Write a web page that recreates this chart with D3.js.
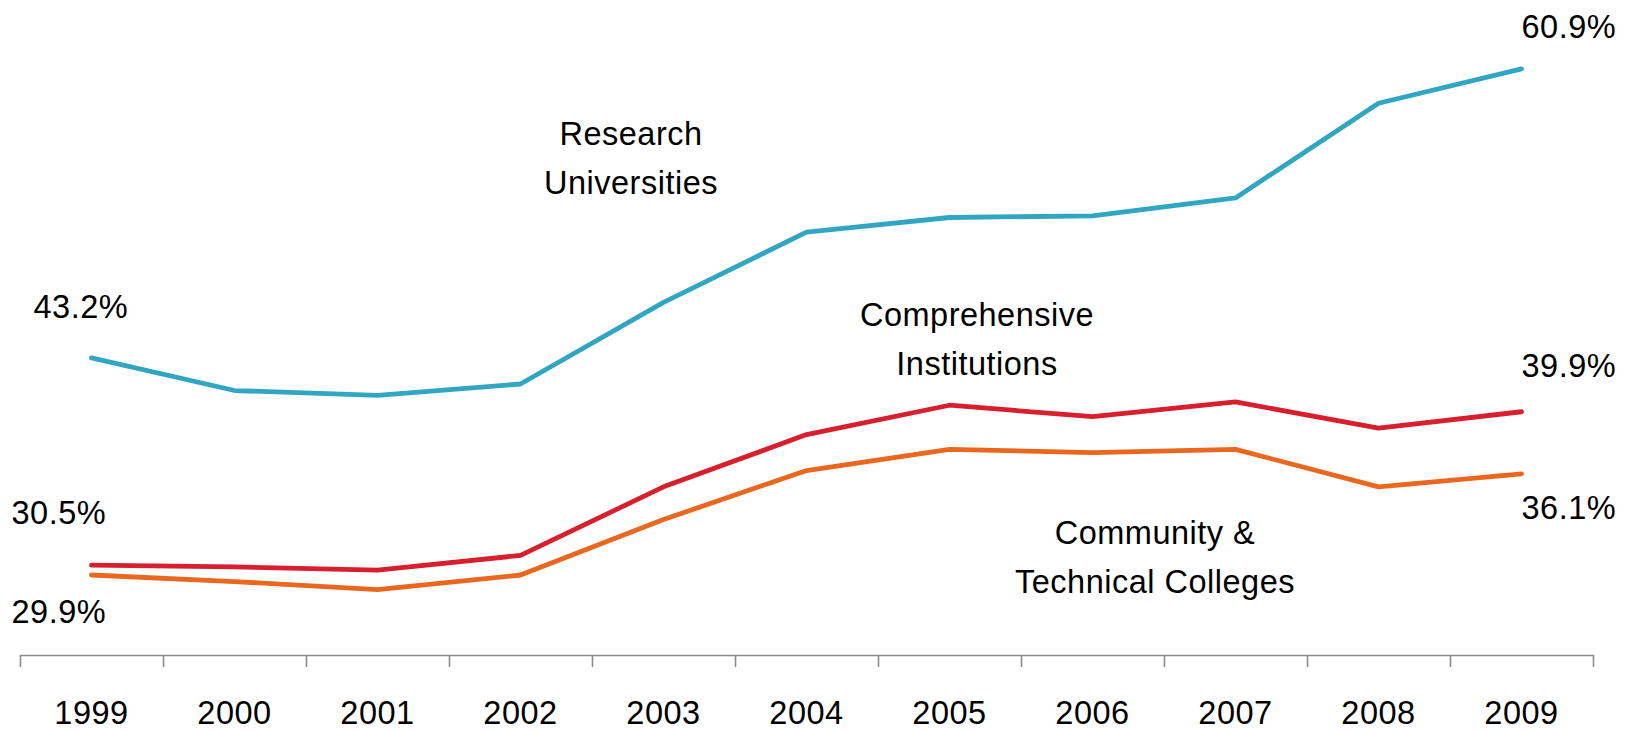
<!DOCTYPE html>
<html>
<head>
<meta charset="utf-8">
<script src="https://cdn.jsdelivr.net/npm/d3@7/dist/d3.min.js"></script>
<style>
  html, body { margin: 0; padding: 0; background: #fff; }
  svg { display: block; }
  text { font-family: "Liberation Sans", Arial, sans-serif; font-size: 32.5px; fill: #000; letter-spacing: 0.5px; }
</style>
</head>
<body>
<svg id="chart" width="1626" height="731"></svg>
<script>
// data (percent)
var years = ['1999', '2000', '2001', '2002', '2003', '2004', '2005', '2006', '2007', '2008', '2009'];
var research = [43.2, 41.2, 40.9, 41.6, 46.6, 50.9, 51.8, 51.9, 53.0, 58.8, 60.9];
var comprehensive = [30.5, 30.4, 30.2, 31.1, 35.3, 38.5, 40.3, 39.6, 40.5, 38.9, 39.9];
var community = [29.9, 29.5, 29.0, 29.9, 33.3, 36.3, 37.6, 37.4, 37.6, 35.3, 36.1];

var seriesNames = ['Research', 'Comprehensive', 'Community'];
var seriesValues = [research, comprehensive, community];
var seriesColors = ['#30a6c3', '#d81f2d', '#ea671f'];

var svg = d3.select('#chart');

var sizes = {
  left: 20,
  right: 1593,
  top: 2,
  bottom: 655
};

var x = d3.scaleBand()
  .domain(years)
  .range([sizes.left, sizes.right])
  .paddingInner(0)
  .paddingOuter(0);

var y = d3.scaleLinear()
  .domain([25, 65])
  .range([sizes.bottom, sizes.top]);

function px(d, i) {
  return x(years[i]) + x.bandwidth() / 2;
}

/* axis: ticks sit on the category boundaries */
var edge = d3.scaleLinear()
  .domain([0, years.length])
  .range([sizes.left, sizes.right]);

var axisG = svg.append('g')
  .attr('class', 'x-axis')
  .attr('transform', 'translate(0,' + sizes.bottom + ')')
  .call(d3.axisBottom(edge)
    .tickValues(d3.range(years.length + 1))
    .tickSizeInner(12)
    .tickSizeOuter(0)
    .tickFormat(''));

axisG.selectAll('path, line')
  .attr('stroke', '#8c8c8c')
  .attr('stroke-width', 1.6);

// year labels
svg.append('g')
  .attr('class', 'years')
  .selectAll('text')
  .data(years)
  .enter()
  .append('text')
  .attr('x', function (d) { return x(d) + x.bandwidth() / 2; })
  .attr('y', sizes.bottom + 69)
  .attr('text-anchor', 'middle')
  .text(function (d) { return d; });

/* lines */
var line = d3.line()
  .x(function (d, i) { return px(d, i); })
  .y(function (d) { return y(d); });

svg.append('g')
  .attr('class', 'lines')
  .selectAll('path')
  .data(seriesValues)
  .enter()
  .append('path')
  .attr('d', line)
  .attr('fill', 'none')
  .attr('stroke', function (d, i) { return seriesColors[i]; })
  .attr('stroke-width', 4.8)
  .attr('stroke-linejoin', 'round')
  .attr('stroke-linecap', 'round');

/* first / last value labels */
var fmt = function (v) { return d3.format('.1f')(v) + '%'; };
var last = years.length - 1;

// offsets from the point: [dx, dy] for first value, [dx, dy] for last value
var labelOffsets = [
  [[-58, -40], [0, -31]],
  [[-80, -41], [0, -35]],
  [[-80, 48], [0, 45]]
];

var valueLabels = svg.append('g').attr('class', 'value-labels');
seriesValues.forEach(function (vals, s) {
  valueLabels.append('text')
    .attr('x', px(vals[0], 0) + labelOffsets[s][0][0])
    .attr('y', y(vals[0]) + labelOffsets[s][0][1])
    .text(fmt(vals[0]));
  valueLabels.append('text')
    .attr('x', px(vals[last], last) + labelOffsets[s][1][0])
    .attr('y', y(vals[last]) + labelOffsets[s][1][1])
    .text(fmt(vals[last]));
});

/* series name annotations */
var names = [
  { lines: ['Research', 'Universities'], x: 631, y: 145 },
  { lines: ['Comprehensive', 'Institutions'], x: 977, y: 326 },
  { lines: ['Community &', 'Technical Colleges'], x: 1155, y: 544 }
];

var nameG = svg.append('g').attr('class', 'series-names');
names.forEach(function (n) {
  n.lines.forEach(function (t, i) {
    nameG.append('text')
      .attr('x', n.x)
      .attr('y', n.y + i * 49)
      .attr('text-anchor', 'middle')
      .text(t);
  });
});
</script>
</body>
</html>
